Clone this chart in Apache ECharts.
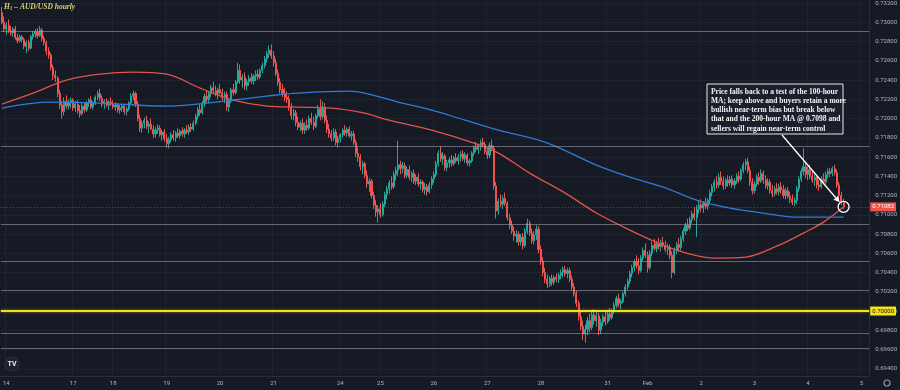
<!DOCTYPE html>
<html><head><meta charset="utf-8">
<script src="https://cdn.jsdelivr.net/npm/echarts@6/dist/echarts.min.js"></script>
<style>html,body{margin:0;padding:0;background:#161a25}#c{width:900px;height:390px}</style>
</head><body><div id="c"></div>
<script>
// ---- hourly candles (AUD/USD H1) ----
const closes = [
.7300,.7293,.7297,.7291,.7289,.7293,.7284,.7281,.7285,.7282,
.7275,.7279,.7273,.7285,.7288,.7290,.7286,.7292,.7283,.7279,
.7270,.7266,.7253,.7245,.7242,.7226,.7214,.7207,
.7218,.7213,.7216,.7219,.7211,.7215,.7208,.7205,.7213,.7209,.7216,.7219,
.7212,.7216,.7222,.7226,.7221,.7215,.7218,.7214,.7217,.7215,
.7212,.7214,.7209,.7211,.7213,.7207,.7210,.7216,.7223,.7226,.7215,
.7200,.7190,.7195,.7198,.7192,.7194,.7189,.7184,.7188,.7190,
.7183,.7186,.7179,.7174,.7178,.7183,.7180,.7185,.7182,.7187,
.7184,.7188,.7186,.7191,.7189,.7195,.7202,.7209,.7206,
.7215,.7223,.7220,.7226,.7232,.7229,.7226,.7230,.7227,.7222,
.7225,.7212,.7218,.7230,.7227,.7238,.7250,.7240,.7243,.7234,
.7238,.7242,.7239,.7244,.7246,.7243,.7250,.7255,.7262,.7267,
.7271,.7265,.7258,.7247,.7238,.7230,.7226,.7222,.7220,.7212,
.7203,.7206,.7196,.7191,.7195,
.7188,.7193,.7190,.7200,.7196,.7192,.7203,.7210,.7202,.7212,
.7198,.7189,.7184,.7180,.7186,.7175,.7179,.7183,.7188,.7185,
.7189,.7182,.7184,.7175,
.7164,.7160,.7150,.7153,.7141,.7132,.7135,.7120,.7110,.7103,
.7106,.7100,.7111,.7121,.7127,.7133,.7129,.7142,.7146,.7152,
.7148,.7151,.7141,.7147,.7139,.7143,.7135,.7139,.7132,.7134,
.7126,.7129,.7124,.7131,.7137,.7142,.7153,.7164,.7158,.7161,
.7149,.7154,.7157,.7153,.7159,.7156,.7160,.7163,.7158,.7162,
.7154,.7156,.7164,.7170,.7168,.7172,.7175,.7173,.7166,.7162,
.7172,.7169,.7130,
.7104,.7114,.7111,.7117,.7112,.7097,.7089,.7083,.7078,.7080,
.7072,.7077,.7068,.7083,.7091,.7081,.7073,.7079,.7085,.7064,.7052,
.7040,.7033,.7028,.7034,.7030,.7035,.7033,.7037,.7040,.7043,
.7039,.7042,.7033,.7025,.7018,.7008,.6994,.6984,.6976,.6981,
.6990,.6983,.6996,.6990,.6995,
.6980,.6988,.6994,.6989,.6997,.6993,.7000,.7006,.7013,.7008,
.7010,.7018,.7025,.7031,.7039,.7045,.7051,.7047,.7042,.7055,
.7063,.7058,.7045,.7060,
.7068,.7065,.7070,.7067,.7071,.7068,.7064,.7066,.7058,.7040,
.7063,.7069,.7066,.7075,.7083,.7089,.7086,.7095,.7101,.7097,.7106,
.7110,.7107,.7112,.7109,.7115,.7123,.7129,.7134,.7131,.7139,
.7135,.7130,.7136,.7133,.7137,.7131,.7135,.7140,.7137,.7146,
.7152,.7155,.7146,.7134,.7125,.7132,.7139,
.7135,.7143,.7136,.7130,.7134,.7125,.7122,.7127,.7124,.7129,
.7126,.7120,.7125,.7119,.7116,.7113,.7115,.7127,.7137,.7145,
.7150,.7142,.7147,.7140,.7136,.7139,.7131,.7129,.7137,.7134,
.7142,.7145,.7143,.7148,.7144,.7131,.7120,.7113,.71082
];
const opens = [
.7310,
.7300,.7293,.7297,.7291,.7289,.7293,.7284,.7281,.7285,.7282,
.7275,.7279,.7273,.7285,.7288,.7290,.7286,.7292,.7283,.7279,
.7270,.7266,.7253,.7245,.7242,.7226,.7214,.7207,
.7218,.7213,.7216,.7219,.7211,.7215,.7208,.7205,.7213,.7209,.7216,.7219,
.7212,.7216,.7222,.7226,.7221,.7215,.7218,.7214,.7217,.7215,
.7212,.7214,.7209,.7211,.7213,.7207,.7210,.7216,.7223,.7226,.7215,
.7200,.7190,.7195,.7198,.7192,.7194,.7189,.7184,.7188,.7190,
.7183,.7186,.7179,.7174,.7178,.7183,.7180,.7185,.7182,.7187,
.7184,.7188,.7186,.7191,.7189,.7195,.7202,.7209,.7206,
.7215,.7223,.7220,.7226,.7232,.7229,.7226,.7230,.7227,.7222,
.7225,.7212,.7218,.7230,.7227,.7238,.7250,.7240,.7243,.7234,
.7238,.7242,.7239,.7244,.7246,.7243,.7250,.7255,.7262,.7267,
.7271,.7265,.7258,.7247,.7238,.7230,.7226,.7222,.7220,.7212,
.7203,.7206,.7196,.7191,.7195,
.7188,.7193,.7190,.7200,.7196,.7192,.7203,.7210,.7202,.7212,
.7198,.7189,.7184,.7180,.7186,.7175,.7179,.7183,.7188,.7185,
.7189,.7182,.7184,.7175,
.7164,.7160,.7150,.7153,.7141,.7132,.7135,.7120,.7110,.7103,
.7106,.7100,.7111,.7121,.7127,.7133,.7129,.7142,.7146,.7152,
.7148,.7151,.7141,.7147,.7139,.7143,.7135,.7139,.7132,.7134,
.7126,.7129,.7124,.7131,.7137,.7142,.7153,.7164,.7158,.7161,
.7149,.7154,.7157,.7153,.7159,.7156,.7160,.7163,.7158,.7162,
.7154,.7156,.7164,.7170,.7168,.7172,.7175,.7173,.7166,.7162,
.7172,.7169,.7130,
.7104,.7114,.7111,.7117,.7112,.7097,.7089,.7083,.7078,.7080,
.7072,.7077,.7068,.7083,.7091,.7081,.7073,.7079,.7085,.7064,.7052,
.7040,.7033,.7028,.7034,.7030,.7035,.7033,.7037,.7040,.7043,
.7039,.7042,.7033,.7025,.7018,.7008,.6994,.6984,.6976,.6981,
.6990,.6983,.6996,.6990,.6995,
.6980,.6988,.6994,.6989,.6997,.6993,.7000,.7006,.7013,.7008,
.7010,.7018,.7025,.7031,.7039,.7045,.7051,.7047,.7042,.7055,
.7063,.7058,.7045,.7060,
.7068,.7065,.7070,.7067,.7071,.7068,.7064,.7066,.7058,.7040,
.7063,.7069,.7066,.7075,.7083,.7089,.7086,.7095,.7101,.7097,.7106,
.7110,.7107,.7112,.7109,.7115,.7123,.7129,.7134,.7131,.7139,
.7135,.7130,.7136,.7133,.7137,.7131,.7135,.7140,.7137,.7146,
.7152,.7155,.7146,.7134,.7125,.7132,.7139,
.7135,.7143,.7136,.7130,.7134,.7125,.7122,.7127,.7124,.7129,
.7126,.7120,.7125,.7119,.7116,.7113,.7115,.7127,.7137,.7145,
.7150,.7142,.7147,.7140,.7136,.7139,.7131,.7129,.7137,.7134,
.7142,.7145,.7143,.7148,.7144,.7131,.7120,.7113
];
const highs = [
.7316,.7306,.7300,.7303,.7296,.7295,.7296,.7288,.7287,.7287,
.7284,.7281,.7282,.7287,.7291,.7293,.7294,.7296,.7294,.7286,
.7281,.7274,.7268,.7256,.7250,.7244,.7230,.7218,
.7222,.7224,.7220,.7222,.7221,.7218,.7219,.7214,.7216,.7217,.7218,.7221,
.7223,.7218,.7224,.7229,.7231,.7224,.7220,.7221,.7219,.7222,
.7219,.7217,.7216,.7214,.7215,.7215,.7212,.7218,.7226,.7229,.7228,
.7218,.7204,.7198,.7201,.7203,.7197,.7200,.7193,.7191,.7194,
.7193,.7188,.7189,.7184,.7181,.7186,.7188,.7187,.7190,.7189,
.7191,.7190,.7193,.7194,.7195,.7198,.7205,.7212,.7215,
.7218,.7226,.7229,.7228,.7235,.7238,.7234,.7232,.7236,.7231,
.7228,.7228,.7220,.7232,.7236,.7240,.7258,.7256,.7246,.7248,
.7241,.7245,.7247,.7246,.7250,.7251,.7252,.7258,.7265,.7270,
.7276,.7277,.7270,.7262,.7251,.7242,.7236,.7232,.7228,.7224,
.7216,.7210,.7209,.7202,.7198,
.7200,.7196,.7199,.7203,.7206,.7202,.7205,.7214,.7220,.7218,
.7216,.7203,.7194,.7188,.7190,.7189,.7182,.7185,.7190,.7193,
.7191,.7192,.7187,.7187,
.7178,.7170,.7163,.7156,.7155,.7146,.7138,.7137,.7124,.7115,
.7110,.7112,.7114,.7124,.7130,.7136,.7140,.7145,.7150,.7177,
.7156,.7155,.7154,.7150,.7151,.7145,.7147,.7142,.7143,.7137,
.7136,.7133,.7132,.7134,.7140,.7145,.7156,.7167,.7171,.7165,
.7163,.7157,.7160,.7162,.7161,.7164,.7163,.7166,.7167,.7165,
.7164,.7158,.7166,.7172,.7176,.7174,.7178,.7180,.7176,.7170,
.7175,.7178,.7172,
.7134,.7117,.7121,.7120,.7123,.7114,.7101,.7094,.7088,.7084,
.7083,.7080,.7081,.7086,.7096,.7094,.7086,.7083,.7089,.7088,.7068,
.7056,.7045,.7038,.7036,.7038,.7037,.7039,.7040,.7043,.7046,
.7047,.7045,.7045,.7037,.7029,.7021,.7011,.6999,.6990,.6986,
.6994,.6997,.7000,.7002,.6999,
.6998,.6992,.6997,.6999,.6999,.7003,.7002,.7009,.7016,.7018,
.7012,.7020,.7028,.7034,.7042,.7048,.7054,.7058,.7055,.7058,
.7066,.7070,.7062,.7063,
.7072,.7075,.7073,.7076,.7074,.7077,.7073,.7070,.7069,.7062,
.7066,.7072,.7076,.7078,.7086,.7092,.7096,.7098,.7104,.7108,.7110,
.7115,.7116,.7114,.7118,.7117,.7126,.7132,.7137,.7140,.7143,
.7145,.7140,.7138,.7141,.7140,.7141,.7138,.7143,.7145,.7148,
.7155,.7158,.7159,.7150,.7138,.7135,.7142,
.7144,.7147,.7146,.7141,.7138,.7137,.7131,.7130,.7133,.7132,
.7134,.7131,.7128,.7129,.7124,.7121,.7118,.7130,.7140,.7148,
.7169,.7155,.7150,.7152,.7146,.7142,.7141,.7136,.7140,.7143,
.7145,.7148,.7149,.7150,.7152,.7147,.7134,.7124,.7117
];
const lows = [
.7298,.7290,.7287,.7289,.7286,.7285,.7282,.7278,.7279,.7279,
.7272,.7268,.7270,.7272,.7282,.7284,.7283,.7285,.7280,.7276,
.7266,.7262,.7250,.7240,.7238,.7222,.7210,.7200,
.7203,.7210,.7209,.7211,.7208,.7207,.7205,.7201,.7203,.7206,.7207,.7212,
.7210,.7209,.7214,.7219,.7218,.7212,.7210,.7212,.7209,.7213,
.7210,.7208,.7206,.7205,.7207,.7204,.7203,.7208,.7214,.7219,.7212,
.7197,.7186,.7185,.7190,.7189,.7185,.7188,.7180,.7180,.7184,
.7181,.7177,.7176,.7170,.7169,.7175,.7177,.7176,.7180,.7179,
.7181,.7180,.7184,.7183,.7186,.7187,.7193,.7199,.7203,
.7204,.7212,.7217,.7216,.7222,.7226,.7223,.7220,.7225,.7219,
.7216,.7208,.7207,.7216,.7224,.7225,.7236,.7236,.7232,.7230,
.7229,.7234,.7236,.7235,.7239,.7240,.7241,.7247,.7252,.7258,
.7263,.7262,.7254,.7244,.7234,.7226,.7222,.7218,.7216,.7208,
.7199,.7198,.7192,.7188,.7187,
.7184,.7184,.7187,.7188,.7193,.7188,.7190,.7200,.7198,.7199,
.7195,.7185,.7180,.7176,.7177,.7172,.7170,.7175,.7180,.7182,
.7181,.7180,.7177,.7172,
.7160,.7155,.7146,.7142,.7138,.7128,.7124,.7117,.7106,.7098,
.7092,.7097,.7098,.7108,.7116,.7122,.7126,.7127,.7136,.7140,
.7142,.7143,.7138,.7138,.7136,.7134,.7132,.7131,.7129,.7126,
.7123,.7121,.7120,.7122,.7127,.7133,.7139,.7150,.7155,.7152,
.7146,.7145,.7149,.7150,.7151,.7154,.7152,.7155,.7156,.7154,
.7151,.7150,.7154,.7161,.7165,.7163,.7167,.7170,.7163,.7158,
.7159,.7166,.7126,
.7096,.7100,.7108,.7106,.7109,.7094,.7085,.7080,.7073,.7071,
.7068,.7068,.7064,.7066,.7080,.7078,.7070,.7069,.7074,.7060,.7048,
.7036,.7029,.7024,.7025,.7026,.7027,.7030,.7029,.7033,.7035,
.7036,.7034,.7030,.7022,.7015,.7004,.6990,.6980,.6970,.6967,
.6975,.6978,.6980,.6986,.6984,
.6975,.6976,.6984,.6985,.6987,.6990,.6991,.6997,.7003,.7004,
.7002,.7008,.7015,.7022,.7028,.7035,.7041,.7044,.7038,.7040,
.7052,.7055,.7040,.7043,
.7057,.7063,.7061,.7064,.7062,.7066,.7061,.7058,.7054,.7034,
.7038,.7059,.7062,.7063,.7072,.7079,.7083,.7084,.7091,.7094,.7077,
.7101,.7103,.7102,.7106,.7105,.7112,.7119,.7124,.7127,.7128,
.7131,.7126,.7127,.7129,.7130,.7128,.7127,.7132,.7133,.7135,
.7143,.7146,.7143,.7130,.7121,.7122,.7129,
.7131,.7133,.7132,.7127,.7126,.7122,.7118,.7119,.7121,.7120,
.7122,.7117,.7116,.7117,.7112,.7110,.7109,.7111,.7124,.7134,
.7141,.7138,.7136,.7137,.7133,.7130,.7127,.7125,.7127,.7132,
.7131,.7138,.7139,.7140,.7141,.7128,.7116,.7110,.7106
];

// ---- moving averages (read at sampled bars) ----
const ma100Idx = [0,14,29,44,59,74,89,104,119,133,148,163,172,193,212,223,237,253,267,282,297,309,320,334,349,360,369,378];
const ma100Val = [0.7215,0.72264,0.72399,0.72461,0.72482,0.72461,0.72316,0.72191,0.72129,0.72118,0.72108,0.72056,0.71994,0.7188,0.71745,0.71641,0.71433,0.71225,0.71018,0.70841,0.70685,0.70592,0.7055,0.70561,0.70685,0.7081,0.70924,0.7108];
const ma200Idx = [0,22,44,74,104,119,133,156,163,178,193,208,223,245,267,282,297,312,327,342,356,378];
const ma200Val = [0.72108,0.7217,0.7216,0.72129,0.72191,0.72233,0.72264,0.72284,0.72264,0.7217,0.72087,0.71983,0.7188,0.71745,0.71516,0.71391,0.71288,0.71153,0.7107,0.71018,0.70976,0.70976];

// ---- axis labels & levels ----
const slotCount = 390;
const dayIdx  = [2,32,50,74,98,122,152,170,194,218,242,272,290,314,338,362,386];
const dayText = ['14','17','18','19','20','21','24','25','26','27','28','31','Feb','2','3','4','5'];
const yTicks = [0.694,0.696,0.698,0.700,0.702,0.704,0.706,0.708,0.710,0.712,0.714,0.716,0.718,0.720,0.722,0.724,0.726,0.728,0.730,0.732];
const drawnLevels = [0.7291,0.71713,0.70903,0.70519,0.70218,0.69772,0.69616];
const keyLevel = 0.70000;
const lastPrice = 0.71082;
const titleText = 'AUD/USD hourly';
const noteLines = [
 'Price falls back to a test of the 100-hour',
 'MA; keep above and buyers retain a more',
 'bullish near-term bias but break below',
 'that and the 200-hour MA @ 0.7098 and',
 'sellers will regain near-term control'
];

const cats = Array.from({length: slotCount}, (_, i) => String(i));
const candleData = closes.map((c, i) => [opens[i], c, lows[i], highs[i]]);
const ma100Data = ma100Idx.map((k, i) => [k, ma100Val[i]]);
const ma200Data = ma200Idx.map((k, i) => [k, ma200Val[i]]);

const chart = echarts.init(document.getElementById('c'), null, {renderer: 'canvas'});
const labelFont = 'Roboto';
const dayFn = (i) => dayIdx.indexOf(i) >= 0;

const levelLines = drawnLevels.map(v => ({
  yAxis: v, lineStyle: {color: 'rgba(165,168,178,0.55)', width: 1, type: 'solid'}, label: {show: false}
}));
levelLines.push({
  yAxis: lastPrice,
  lineStyle: {color: 'rgba(239,83,80,0.6)', width: 1, type: [1, 2]},
  label: {show: true, position: 'end', distance: 1, formatter: lastPrice.toFixed(5),
    backgroundColor: '#ef5350', color: '#fff', fontSize: 6, fontFamily: labelFont, padding: [2, 2, 1, 2]}
});
levelLines.push({
  yAxis: keyLevel,
  lineStyle: {color: '#f3e21c', width: 2, type: 'solid', shadowColor: 'rgba(243,226,28,0.5)', shadowBlur: 3},
  label: {show: true, position: 'end', distance: 1, formatter: keyLevel.toFixed(5),
    backgroundColor: '#f3e21c', color: '#111', fontSize: 6, fontFamily: labelFont, padding: [2, 2, 1, 2]}
});

chart.setOption({
  animation: false,
  backgroundColor: '#161a25',
  grid: {left: 0, right: 28, top: 0, bottom: 14, containLabel: false},
  xAxis: {
    type: 'category', data: cats, boundaryGap: true,
    axisLine: {show: true, lineStyle: {color: '#2a2e39'}},
    axisTick: {show: false},
    axisLabel: {interval: dayFn, formatter: (v, i) => dayText[dayIdx.indexOf(Number(v))] || '',
      color: '#b2b5be', fontSize: 6, fontFamily: labelFont, margin: 4},
    splitLine: {show: true, interval: dayFn, lineStyle: {color: '#1f2330', width: 1}}
  },
  yAxis: {
    type: 'value', position: 'right', scale: true, min: 0.69325, max: 0.73229,
    axisLine: {show: true, lineStyle: {color: '#2a2e39'}},
    axisTick: {show: false, customValues: yTicks},
    axisLabel: {customValues: yTicks, formatter: v => v.toFixed(5), color: '#b2b5be', fontSize: 6, fontFamily: labelFont, margin: 6},
    splitLine: {show: true, customValues: yTicks, lineStyle: {color: '#1f2330', width: 1}}
  },
  series: [
    {
      type: 'candlestick', data: candleData, barWidth: 1.6,
      itemStyle: {color: '#26a69a', color0: '#ef5350', borderColor: '#26a69a', borderColor0: '#ef5350', borderWidth: 1},
      markLine: {silent: true, precision: 6, symbol: ['none', 'none'], animation: false, data: levelLines},
      z: 3
    },
    {type: 'line', data: ma100Data, smooth: 0.35, showSymbol: false, symbol: 'none',
      lineStyle: {color: '#e2534c', width: 1.3}, z: 4},
    {type: 'line', data: ma200Data, smooth: 0.35, showSymbol: false, symbol: 'none',
      lineStyle: {color: '#2f7bd6', width: 1.3}, z: 4}
  ]
});

// annotation, anchored on the last candle
const p = chart.convertToPixel({xAxisIndex: 0, yAxisIndex: 0}, [closes.length - 1, lastPrice]);
const boxX = 707, boxY = 84, boxW = 136, boxH = 50;
const start = [782, boxY + boxH + 1];
const r = 5.5;
const dx = p[0] - start[0], dy = p[1] - start[1];
const len = Math.sqrt(dx * dx + dy * dy);
const ux = dx / len, uy = dy / len;
const tip = [p[0] - ux * (r + 0.5), p[1] - uy * (r + 0.5)];
const ah = 6, aw = 3;
const base = [tip[0] - ux * ah, tip[1] - uy * ah];
chart.setOption({
  graphic: [
    {type: 'text', left: 4, top: 3, style: {
      text: '{h|H}{s|1}{t| – ' + titleText + '}',
      rich: {
        h: {fill: '#d8d36c', fontSize: 7.5, fontStyle: 'italic', fontWeight: 'bold', fontFamily: 'Liberation Serif'},
        s: {fill: '#d8d36c', fontSize: 5.2, fontStyle: 'italic', fontWeight: 'bold', fontFamily: 'Liberation Serif', padding: [3, 0, 0, 0]},
        t: {fill: '#d8d36c', fontSize: 7.5, fontStyle: 'italic', fontWeight: 'bold', fontFamily: 'Liberation Serif'}
      }}},
    {type: 'rect', shape: {x: boxX, y: boxY, width: boxW, height: boxH},
      style: {fill: '#1b1f2b', stroke: '#e8e8e8', lineWidth: 1}, z: 10},
    {type: 'text', x: boxX + 4, y: boxY + 3, z: 11, style: {
      text: noteLines.join('\n'), fill: '#f2f2f2', font: 'bold 7.5px "Liberation Serif"', lineHeight: 9.3}},
    {type: 'line', shape: {x1: start[0], y1: start[1], x2: base[0], y2: base[1]},
      style: {stroke: '#ffffff', lineWidth: 1.3}, z: 10},
    {type: 'polygon', shape: {points: [tip, [base[0] - uy * aw, base[1] + ux * aw], [base[0] + uy * aw, base[1] - ux * aw]]},
      style: {fill: '#ffffff'}, z: 10},
    {type: 'circle', shape: {cx: p[0], cy: p[1], r: r}, style: {fill: 'none', stroke: '#ffffff', lineWidth: 1.3}, z: 10},
    {type: 'circle', shape: {cx: 12, cy: 364, r: 7}, style: {fill: '#1c2030', stroke: '#2c3140', lineWidth: 1}, z: 10},
    {type: 'text', x: 12, y: 364, z: 11, style: {text: 'TV', fill: '#f0f0f0', font: 'bold 7px Roboto', align: 'center', verticalAlign: 'middle'}},
    {type: 'circle', shape: {cx: 887, cy: 383, r: 3}, style: {fill: 'none', stroke: '#9598a1', lineWidth: 1.2}, z: 10}
  ]
});
</script>
</body></html>
